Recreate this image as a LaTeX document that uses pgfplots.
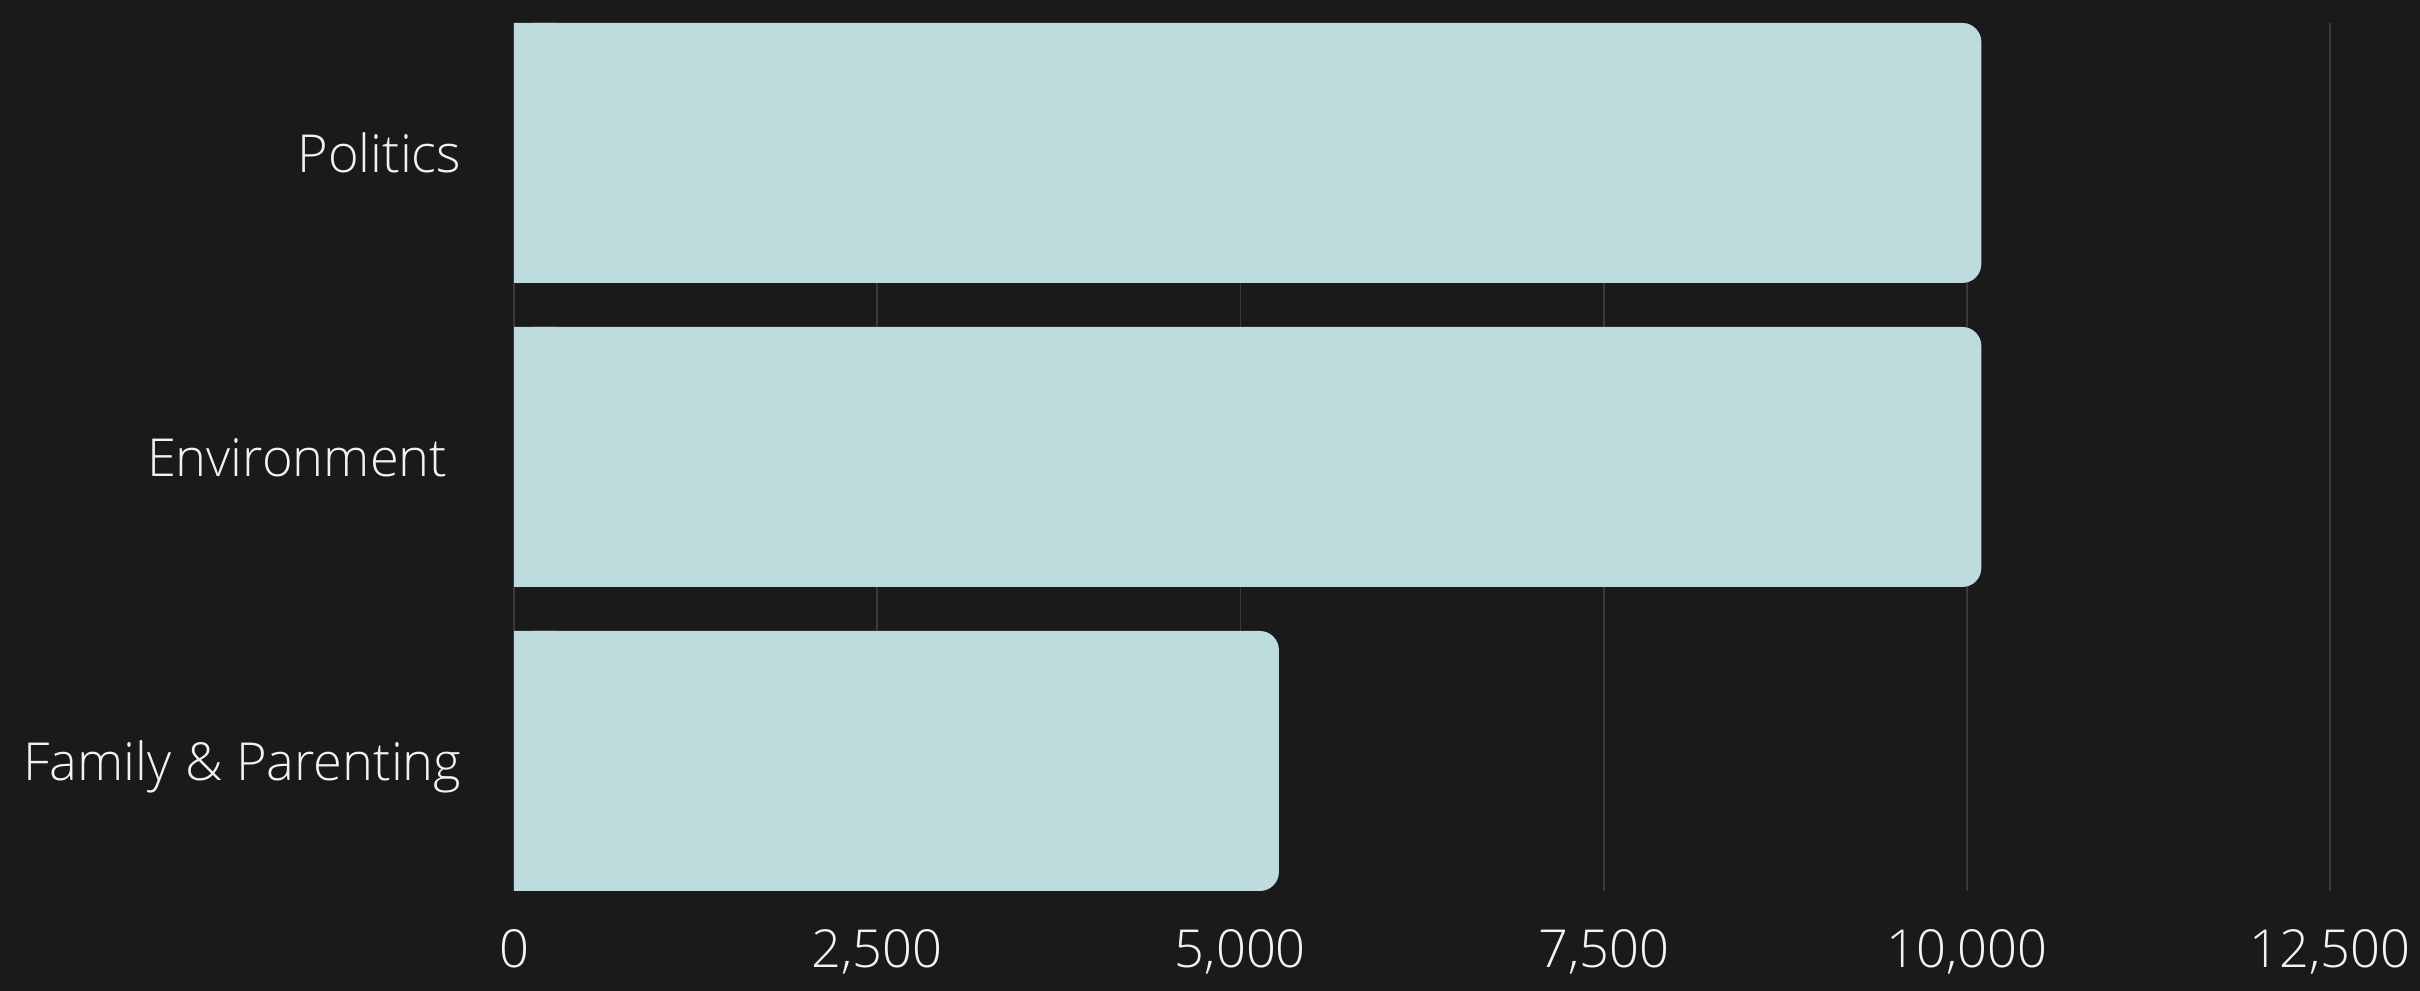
\documentclass[border=0pt]{standalone}
\usepackage{fontspec}
\setmainfont{Open Sans Light}
\usepackage{pgfplots}
\pgfplotsset{compat=1.18}
\usepackage{pgfplotstable}

\definecolor{bg}{HTML}{1A1A1A}
\definecolor{barc}{HTML}{BEDCDE}
\definecolor{gridc}{HTML}{3A3A3A}
\definecolor{txt}{HTML}{F2F2F2}

% topic index (0 = bottom row) and count
\pgfplotstableread{
idx v
2 10100
1 10100
0 5265
}\topics

\begin{document}
\begin{tikzpicture}
\fill[bg] (0,0) rectangle (605pt,247.75pt);
\useasboundingbox (0,0) rectangle (605pt,247.75pt);
\begin{axis}[
  at={(128.5pt,25pt)}, anchor=south west,
  scale only axis, width=454pt, height=217pt,
  xmin=0, xmax=12500,
  ymin=-0.4276, ymax=2.4276,
  xtick={0,2500,5000,7500,10000,12500},
  ytick={0,1,2},
  yticklabels={Family \& Parenting, Environment\kern3.5pt, Politics},
  scaled x ticks=false,
  /pgf/number format/.cd, 1000 sep={,}, assume math mode=true, /pgfplots/.cd,
  axis line style={draw=none},
  major tick length=0pt,
  xmajorgrids, ymajorgrids=false,
  grid style={gridc, line width=0.45pt},
  tick label style={font=\fontsize{13.1pt}{15pt}\selectfont, text=txt},
  xticklabel style={anchor=base, inner sep=0pt, yshift=-19.25pt},
  yticklabel style={anchor=base east, inner sep=0pt, xshift=-13pt, yshift=-4.9pt},
  bar width=65pt,
]
\addplot[xbar, fill=barc, draw=none, rounded corners=4.75pt] table[x=v, y=idx] {\topics};
% square-cornered base so only the outer end is rounded
\addplot[xbar, fill=barc, draw=none] table[x expr={min(\thisrow{v},300)}, y=idx] {\topics};
\end{axis}
\end{tikzpicture}
\end{document}
